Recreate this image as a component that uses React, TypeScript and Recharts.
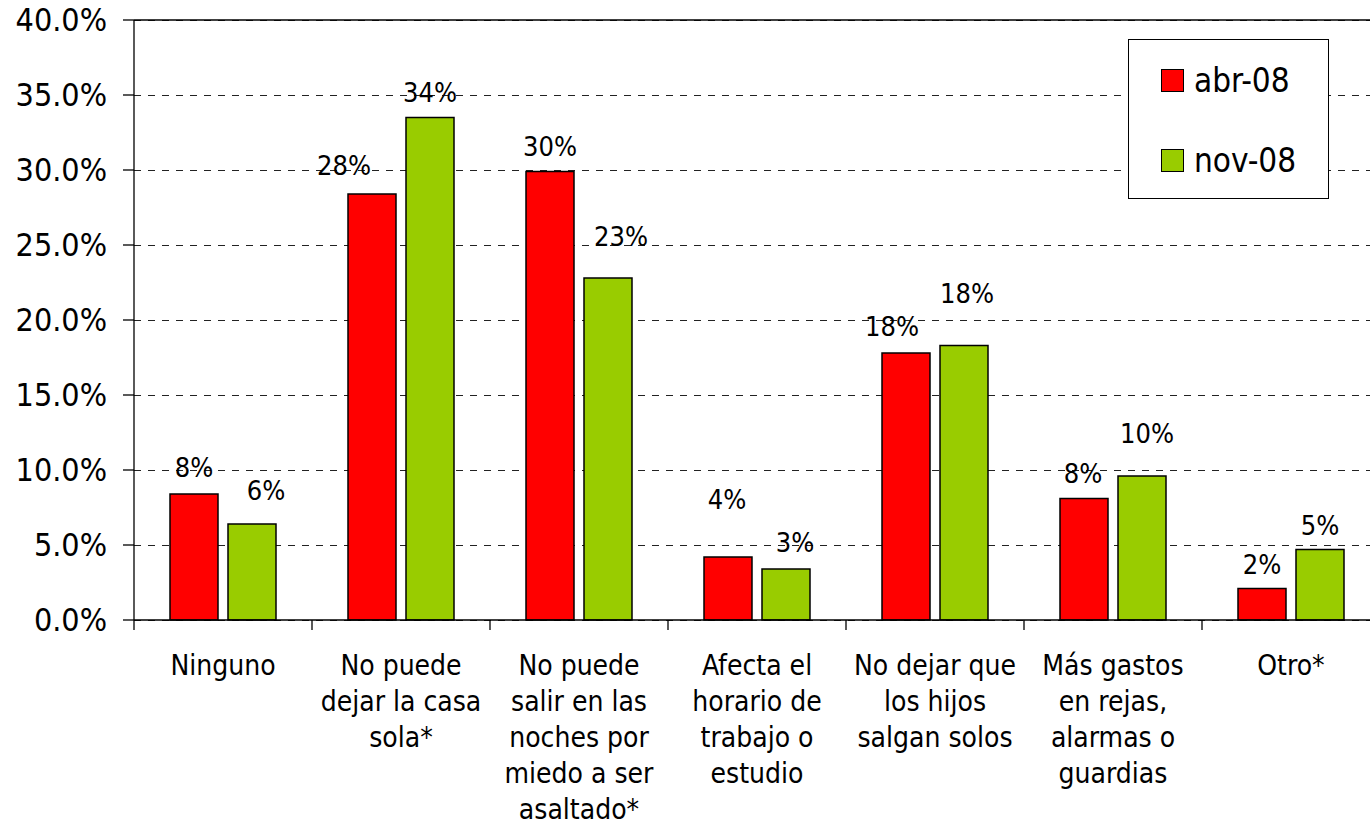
import {
  Bar,
  BarChart,
  CartesianGrid,
  LabelList,
  Legend,
  ReferenceLine,
  XAxis,
  YAxis,
} from "recharts";

const categories = [
  "Ninguno",
  "No puede\ndejar la casa\nsola*",
  "No puede\nsalir en las\nnoches por\nmiedo a ser\nasaltado*",
  "Afecta el\nhorario de\ntrabajo o\nestudio",
  "No dejar que\nlos hijos\nsalgan solos",
  "Más gastos\nen rejas,\nalarmas o\nguardias",
  "Otro*",
];
const abr08 = [8.4, 28.4, 29.9, 4.2, 17.8, 8.1, 2.1];
const nov08 = [6.4, 33.5, 22.8, 3.4, 18.3, 9.6, 4.7];
const yTicks = [0, 5, 10, 15, 20, 25, 30, 35, 40];

// manual label nudges [dx, dy] as placed in the original
const abrLabelNudge = [[0, -1], [-28, -3], [0, 0], [-1, -32], [-14, -1], [-1, 0], [0, 1]];
const novLabelNudge = [[14, -8], [0, 0], [13, -16], [9, -1], [3, -27], [5, -17], [0, 1]];

const data = categories.map((name, i) => ({ name, abr: abr08[i], nov: nov08[i] }));

const FONT = '"DejaVu Sans Condensed", "DejaVu Sans", sans-serif';
const CHART_W = 1380;
const CHART_H = 825;
const Y_W = 134;
const HALF_BAND = (CHART_W - Y_W) / categories.length / 2;

function CategoryTick(props: any) {
  const { x, y, payload } = props;
  const lines = String(payload.value).split("\n");
  return (
    <g>
      <line x1={x - HALF_BAND} x2={x - HALF_BAND} y1={y} y2={y + 10} stroke="#000" strokeWidth={1.3} />
      <text x={x} y={y + 55} textAnchor="middle" fontSize={28} fontFamily={FONT} fill="#000">
        {lines.map((line, i) => (
          <tspan key={i} x={x} dy={i === 0 ? 0 : 36}>
            {line}
          </tspan>
        ))}
      </text>
    </g>
  );
}

function makeLabel(nudge: number[][]) {
  return (props: any) => {
    const { x, y, width, value, index } = props;
    const [dx, dy] = nudge[index] ?? [0, 0];
    return (
      <text
        x={x + width / 2 + dx}
        y={y - 16 + dy}
        textAnchor="middle"
        fontSize={27}
        fontFamily={FONT}
        fill="#000"
      >
        {`${Math.round(value)}%`}
      </text>
    );
  };
}

function LegendBox(props: any) {
  const items = props.payload ?? [];
  return (
    <div
      style={{
        width: 201,
        height: 160,
        border: "1px solid #000",
        background: "#fff",
        boxSizing: "border-box",
        position: "relative",
        fontFamily: FONT,
      }}
    >
      {items.map((item: any, i: number) => (
        <div
          key={item.value}
          style={{
            position: "absolute",
            left: 32,
            top: 29 + 80 * i,
            height: 23,
            display: "flex",
            alignItems: "center",
            whiteSpace: "nowrap",
          }}
        >
          <span
            style={{
              width: 21,
              height: 21,
              background: item.color,
              border: "1px solid #000",
              display: "inline-block",
            }}
          />
          <span style={{ marginLeft: 10, fontSize: 33, lineHeight: "23px", color: "#000" }}>{item.value}</span>
        </div>
      ))}
    </div>
  );
}

export default function App() {
  return (
    <div
      style={{
        position: "fixed",
        left: 0,
        top: 0,
        width: 1370,
        height: 825,
        overflow: "hidden",
        background: "#fff",
      }}
    >
      <BarChart
        width={CHART_W}
        height={CHART_H}
        data={data}
        margin={{ top: 20, right: 0, bottom: 0, left: 0 }}
        barSize={48}
        barGap={10}
      >
        <CartesianGrid
          vertical={false}
          stroke="#222"
          strokeDasharray="7 7"
          shapeRendering="crispEdges"
        />
        <ReferenceLine y={40} stroke="#000" strokeWidth={1.3} />
        <XAxis
          dataKey="name"
          interval={0}
          height={205}
          tickLine={false}
          tickSize={0}
          tickMargin={0}
          axisLine={{ stroke: "#000", strokeWidth: 1.3 }}
          tick={<CategoryTick />}
        />
        <YAxis
          type="number"
          domain={[0, 40]}
          ticks={yTicks}
          width={Y_W}
          tickSize={11}
          tickMargin={16}
          tickFormatter={(v: number) => `${v.toFixed(1)}%`}
          axisLine={{ stroke: "#000", strokeWidth: 1.3 }}
          tickLine={{ stroke: "#000", strokeWidth: 1.3 }}
          tick={{ fontSize: 32, fill: "#000", fontFamily: FONT }}
        />
        <Legend
          layout="horizontal"
          verticalAlign="middle"
          align="center"
          content={<LegendBox />}
          wrapperStyle={{ left: 1128, top: 39, width: 201, height: 160 }}
        />
        <Bar dataKey="abr" name="abr-08" fill="#FF0000" stroke="#000" strokeWidth={1.5} isAnimationActive={false}>
          <LabelList dataKey="abr" content={makeLabel(abrLabelNudge)} />
        </Bar>
        <Bar dataKey="nov" name="nov-08" fill="#99CC00" stroke="#000" strokeWidth={1.5} isAnimationActive={false}>
          <LabelList dataKey="nov" content={makeLabel(novLabelNudge)} />
        </Bar>
      </BarChart>
    </div>
  );
}
